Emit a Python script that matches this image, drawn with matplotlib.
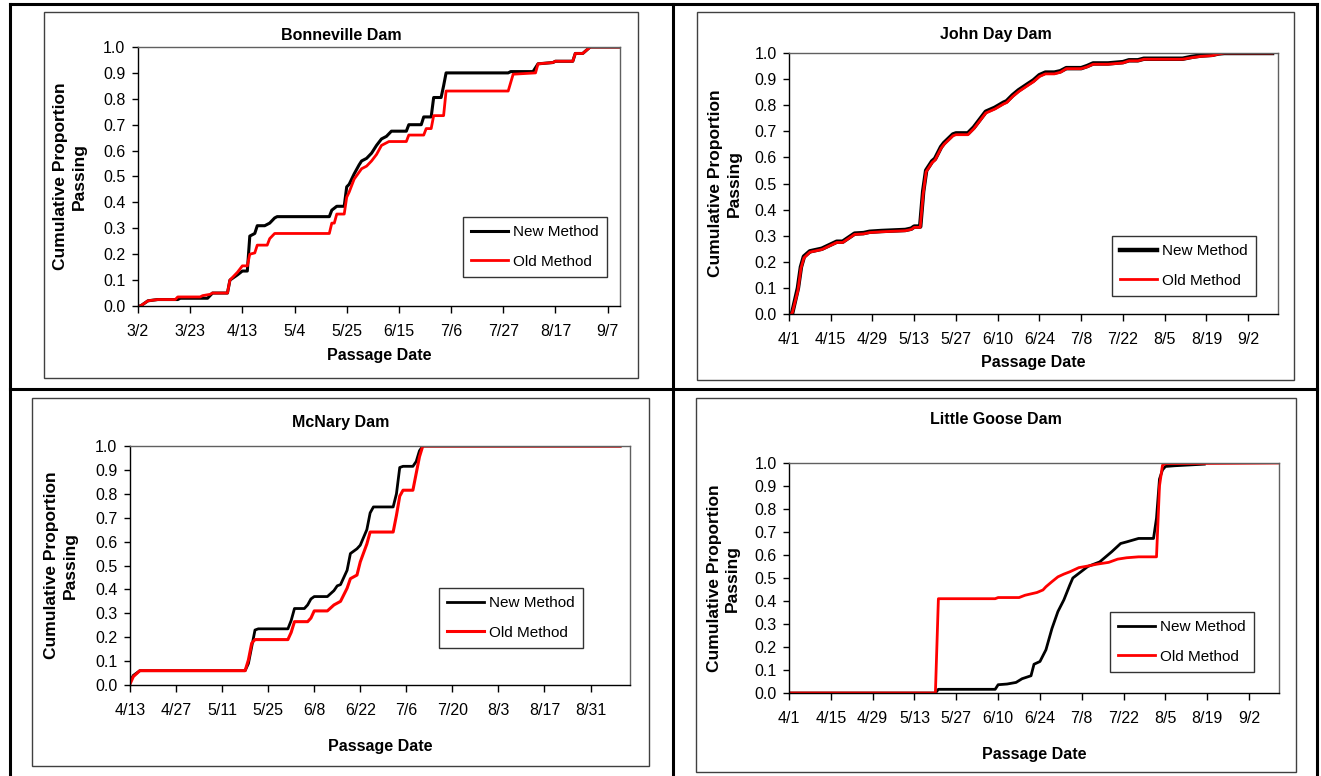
import numpy as np
import pandas as pd
import matplotlib
matplotlib.use("Agg")
import matplotlib.pyplot as plt
from matplotlib.patches import Rectangle
from matplotlib.lines import Line2D

plt.rcParams['font.family'] = ['Liberation Sans', 'DejaVu Sans']

W, H = 1321, 776
YEAR = "2005/"

## Bonneville Dam
bon_ticks = ["3/2", "3/23", "4/13", "5/4", "5/25", "6/15", "7/6", "7/27", "8/17", "9/7"]
bon_xlim = ["3/2", "9/12"]
bon_new_dates = ["3/2", "3/3", "3/6", "3/10", "3/18", "3/19", "3/30", "3/31", "4/1", "4/7",
                 "4/8", "4/11", "4/13", "4/15", "4/16", "4/18", "4/19", "4/22", "4/24", "4/26",
                 "4/27", "5/18", "5/19", "5/21", "5/24", "5/25", "5/26", "5/28", "5/30", "5/31",
                 "6/2", "6/4", "6/6", "6/8", "6/10", "6/12", "6/18", "6/19", "6/24", "6/25",
                 "6/28", "6/29", "7/2", "7/3", "7/4", "7/29", "7/30", "8/8", "8/10", "8/16",
                 "8/17", "8/24", "8/25", "8/28", "8/31", "9/12"]
bon_new_vals = [0.0, 0.0, 0.02, 0.025, 0.025, 0.03, 0.03, 0.04, 0.05, 0.05,
                0.10, 0.12, 0.135, 0.135, 0.27, 0.28, 0.31, 0.31, 0.32, 0.34,
                0.345, 0.345, 0.37, 0.385, 0.385, 0.46, 0.47, 0.51, 0.545, 0.56,
                0.57, 0.59, 0.62, 0.645, 0.655, 0.675, 0.675, 0.70, 0.70, 0.73,
                0.73, 0.805, 0.805, 0.85, 0.90, 0.90, 0.905, 0.905, 0.935, 0.94,
                0.945, 0.945, 0.975, 0.975, 1.0, 1.0]
bon_old_dates = ["3/2", "3/3", "3/6", "3/10", "3/17", "3/18", "3/27", "3/28", "3/31", "4/1",
                 "4/7", "4/8", "4/11", "4/13", "4/15", "4/16", "4/18", "4/19", "4/23", "4/24",
                 "4/26", "5/18", "5/19", "5/20", "5/21", "5/24", "5/25", "5/26", "5/28", "5/31",
                 "6/2", "6/4", "6/6", "6/8", "6/11", "6/18", "6/19", "6/25", "6/26", "6/28",
                 "6/29", "7/3", "7/4", "7/29", "7/31", "8/9", "8/10", "8/16", "8/17", "8/24",
                 "8/25", "8/28", "8/31", "9/12"]
bon_old_vals = [0.0, 0.0, 0.02, 0.025, 0.025, 0.035, 0.035, 0.04, 0.045, 0.05,
                0.05, 0.10, 0.13, 0.155, 0.155, 0.20, 0.205, 0.235, 0.235, 0.26,
                0.28, 0.28, 0.32, 0.32, 0.355, 0.355, 0.42, 0.44, 0.49, 0.53,
                0.54, 0.56, 0.585, 0.62, 0.635, 0.635, 0.66, 0.66, 0.685, 0.685,
                0.735, 0.735, 0.83, 0.83, 0.895, 0.90, 0.935, 0.94, 0.945, 0.945,
                0.975, 0.975, 1.0, 1.0]

## John Day Dam
jd_ticks = ["4/1", "4/15", "4/29", "5/13", "5/27", "6/10", "6/24", "7/8", "7/22", "8/5", "8/19", "9/2"]
jd_xlim = ["4/1", "9/12"]
jd_new_dates = ["4/1", "4/2", "4/4", "4/5", "4/6", "4/8", "4/12", "4/17", "4/19", "4/23",
                "4/26", "4/28", "5/2", "5/10", "5/12", "5/13", "5/15", "5/16", "5/17", "5/19",
                "5/20", "5/22", "5/23", "5/26", "5/27", "5/31", "6/2", "6/4", "6/6", "6/9",
                "6/12", "6/13", "6/15", "6/17", "6/20", "6/22", "6/24", "6/26", "6/29", "7/1",
                "7/3", "7/8", "7/10", "7/12", "7/17", "7/22", "7/24", "7/27", "7/29", "8/11",
                "8/14", "8/17", "8/21", "8/23", "8/25", "9/10"]
jd_new_vals = [0.0, 0.0, 0.10, 0.18, 0.22, 0.24, 0.25, 0.277, 0.277, 0.308,
               0.31, 0.315, 0.318, 0.322, 0.327, 0.335, 0.335, 0.47, 0.55, 0.585,
               0.595, 0.64, 0.655, 0.688, 0.692, 0.692, 0.715, 0.745, 0.775, 0.79,
               0.81, 0.815, 0.838, 0.857, 0.88, 0.895, 0.915, 0.925, 0.925, 0.93,
               0.942, 0.942, 0.95, 0.96, 0.96, 0.965, 0.972, 0.972, 0.978, 0.978,
               0.985, 0.99, 0.993, 0.998, 1.0, 1.0]
jd_old_dates = jd_new_dates
jd_old_vals = [0.0, 0.0, 0.09, 0.175, 0.215, 0.237, 0.247, 0.274, 0.274, 0.305,
               0.307, 0.312, 0.315, 0.319, 0.324, 0.332, 0.332, 0.46, 0.545, 0.58,
               0.59, 0.635, 0.65, 0.683, 0.687, 0.687, 0.71, 0.74, 0.77, 0.785,
               0.805, 0.81, 0.833, 0.852, 0.875, 0.89, 0.91, 0.92, 0.92, 0.926,
               0.94, 0.94, 0.947, 0.957, 0.957, 0.962, 0.97, 0.97, 0.976, 0.976,
               0.982, 0.987, 0.99, 0.996, 1.0, 1.0]

## McNary Dam
mcn_ticks = ["4/13", "4/27", "5/11", "5/25", "6/8", "6/22", "7/6", "7/20", "8/3", "8/17", "8/31"]
mcn_xlim = ["4/13", "9/12"]
mcn_new_dates = ["4/13", "4/14", "4/16", "5/18", "5/19", "5/20", "5/21", "5/22", "5/31", "6/1",
                 "6/2", "6/5", "6/6", "6/7", "6/8", "6/12", "6/14", "6/15", "6/16", "6/18",
                 "6/19", "6/21", "6/22", "6/24", "6/25", "6/26", "7/2", "7/3", "7/4", "7/5",
                 "7/8", "7/9", "7/10", "7/11", "9/9"]
mcn_new_vals = [0.014, 0.04, 0.06, 0.06, 0.09, 0.16, 0.23, 0.235, 0.235, 0.27,
                0.32, 0.32, 0.335, 0.36, 0.37, 0.37, 0.395, 0.415, 0.42, 0.48,
                0.55, 0.57, 0.585, 0.65, 0.72, 0.745, 0.745, 0.80, 0.91, 0.915,
                0.915, 0.935, 0.98, 1.0, 1.0]
mcn_old_dates = ["4/13", "4/14", "4/16", "5/18", "5/19", "5/20", "5/21", "5/31", "6/1", "6/2",
                 "6/6", "6/7", "6/8", "6/12", "6/14", "6/16", "6/18", "6/19", "6/21", "6/22",
                 "6/24", "6/25", "7/2", "7/3", "7/4", "7/5", "7/8", "7/9", "7/10", "7/11",
                 "9/9"]
mcn_old_vals = [0.004, 0.035, 0.06, 0.06, 0.105, 0.175, 0.19, 0.19, 0.22, 0.265,
                0.265, 0.28, 0.31, 0.31, 0.335, 0.35, 0.405, 0.445, 0.46, 0.515,
                0.59, 0.64, 0.64, 0.71, 0.79, 0.815, 0.815, 0.885, 0.955, 1.0,
                1.0]

## Little Goose Dam
lg_ticks = ["4/1", "4/15", "4/29", "5/13", "5/27", "6/10", "6/24", "7/8", "7/22", "8/5", "8/19", "9/2"]
lg_xlim = ["4/1", "9/12"]
lg_new_dates = ["4/1", "5/20", "5/21", "6/9", "6/10", "6/13", "6/16", "6/18", "6/21", "6/22",
                "6/24", "6/26", "6/28", "6/30", "7/2", "7/4", "7/5", "7/7", "7/10", "7/14",
                "7/18", "7/21", "7/23", "7/27", "8/1", "8/2", "8/3", "8/4", "8/5", "8/8",
                "8/18"]
lg_new_vals = [0.0, 0.0, 0.016, 0.016, 0.036, 0.039, 0.046, 0.062, 0.075, 0.125,
               0.137, 0.188, 0.28, 0.354, 0.405, 0.47, 0.50, 0.52, 0.55, 0.57,
               0.614, 0.65, 0.657, 0.672, 0.672, 0.76, 0.93, 0.97, 0.985, 0.988,
               0.995]
lg_old_dates = ["4/1", "5/20", "5/21", "6/9", "6/10", "6/17", "6/19", "6/23", "6/25", "6/26",
                "6/28", "6/30", "7/2", "7/4", "7/7", "7/10", "7/13", "7/17", "7/20", "7/23",
                "7/27", "8/2", "8/3", "8/4", "8/5", "9/12"]
lg_old_vals = [0.0, 0.0, 0.41, 0.41, 0.415, 0.415, 0.425, 0.437, 0.448, 0.462,
               0.484, 0.505, 0.517, 0.527, 0.545, 0.552, 0.56, 0.568, 0.582, 0.588,
               0.592, 0.592, 0.90, 0.99, 0.997, 1.0]


def to_dates(lst):
    return pd.to_datetime([YEAR + s for s in lst], format="%Y/%m/%d")

def fx(x):
    return x / W

def fy(y):
    return 1 - y / H

fig = plt.figure(figsize=(W / 100, H / 100), dpi=100)

# table grid around the four charts
grid_lw = 2.2
for (x0, y0, x1, y1) in [(10, 4, 1317, 4), (10, 4, 10, 776), (1317, 4, 1317, 776),
                         (673, 4, 673, 776), (10, 389, 1317, 389)]:
    fig.add_artist(Line2D([fx(x0), fx(x1)], [fy(y0), fy(y1)], color='black', lw=grid_lw,
                          transform=fig.transFigure))

panels = [
    dict(title="Bonneville Dam", ticks=bon_ticks, xlim=bon_xlim,
         new=(bon_new_dates, bon_new_vals), old=(bon_old_dates, bon_old_vals),
         box=(44, 12, 638, 378), plot=(138, 47, 620, 306), title_y=35, xlab_y=356,
         ylab_x=70, leg=(463, 217), lw=(2.2, 2.0)),
    dict(title="John Day Dam", ticks=jd_ticks, xlim=jd_xlim,
         new=(jd_new_dates, jd_new_vals), old=(jd_old_dates, jd_old_vals),
         box=(697, 12, 1294, 380), plot=(789, 53, 1278, 314), title_y=34, xlab_y=362,
         ylab_x=725, leg=(1112, 236), lw=(3.2, 2.0)),
    dict(title="McNary Dam", ticks=mcn_ticks, xlim=mcn_xlim,
         new=(mcn_new_dates, mcn_new_vals), old=(mcn_old_dates, mcn_old_vals),
         box=(32, 398, 649, 766), plot=(130, 446, 630, 685), title_y=423, xlab_y=747,
         ylab_x=61, leg=(439, 588), lw=(2.0, 2.2)),
    dict(title="Little Goose Dam", ticks=lg_ticks, xlim=lg_xlim,
         new=(lg_new_dates, lg_new_vals), old=(lg_old_dates, lg_old_vals),
         box=(696, 398, 1296, 772), plot=(789, 463, 1279, 693), title_y=420, xlab_y=755,
         ylab_x=723, leg=(1110, 612), lw=(2.0, 2.0)),
]

for p in panels:
    bl, bt, br, bb = p['box']
    fig.add_artist(Rectangle((fx(bl), fy(bb)), fx(br - bl), (bb - bt) / H, fill=False,
                             ec='#404040', lw=1.0, transform=fig.transFigure))
    l, t, r, b = p['plot']
    ax = fig.add_axes([fx(l), fy(b), fx(r - l), (b - t) / H])
    ax.plot(to_dates(p['new'][0]), p['new'][1], color='black', lw=p['lw'][0],
            label='New Method', solid_joinstyle='round')
    ax.plot(to_dates(p['old'][0]), p['old'][1], color='red', lw=p['lw'][1],
            label='Old Method', solid_joinstyle='round')
    xl = to_dates(p['xlim'])
    ax.set_xlim(xl[0], xl[1])
    ax.set_ylim(0, 1)
    ax.set_yticks(np.arange(0, 1.01, 0.1))
    ax.set_yticklabels(["%.1f" % v for v in np.arange(0, 1.01, 0.1)])
    ax.set_xticks(to_dates(p['ticks']))
    ax.set_xticklabels(p['ticks'])
    ax.tick_params(axis='x', direction='out', length=5, width=1, labelsize=11.5, pad=8)
    ax.tick_params(axis='y', direction='out', length=4, width=1, labelsize=11.5, pad=5)
    for s in ['top', 'right']:
        ax.spines[s].set_color('#606060')
        ax.spines[s].set_linewidth(1.0)
    for s in ['left', 'bottom']:
        ax.spines[s].set_linewidth(1.0)

    fig.text(fx((bl + br) / 2), fy(p['title_y']), p['title'], ha='center', va='center',
             fontsize=11.5, fontweight='bold')
    fig.text(fx((l + r) / 2), fy(p['xlab_y']), "Passage Date", ha='center', va='center',
             fontsize=11.5, fontweight='bold')
    fig.text(fx(p['ylab_x']), fy((t + b) / 2), "Cumulative Proportion\nPassing", ha='center',
             va='center', rotation=90, fontsize=12.5, fontweight='bold', linespacing=1.25,
             multialignment='center')

    leg = ax.legend(loc='upper left', bbox_to_anchor=(fx(p['leg'][0]), fy(p['leg'][1])),
                    bbox_transform=fig.transFigure, frameon=True, fancybox=False,
                    edgecolor='black', fontsize=11, handlelength=2.4, handletextpad=0.3,
                    labelspacing=1.0, borderpad=0.55, borderaxespad=0)
    leg.get_frame().set_linewidth(1.0)

fig.savefig("out.png", dpi=100)
